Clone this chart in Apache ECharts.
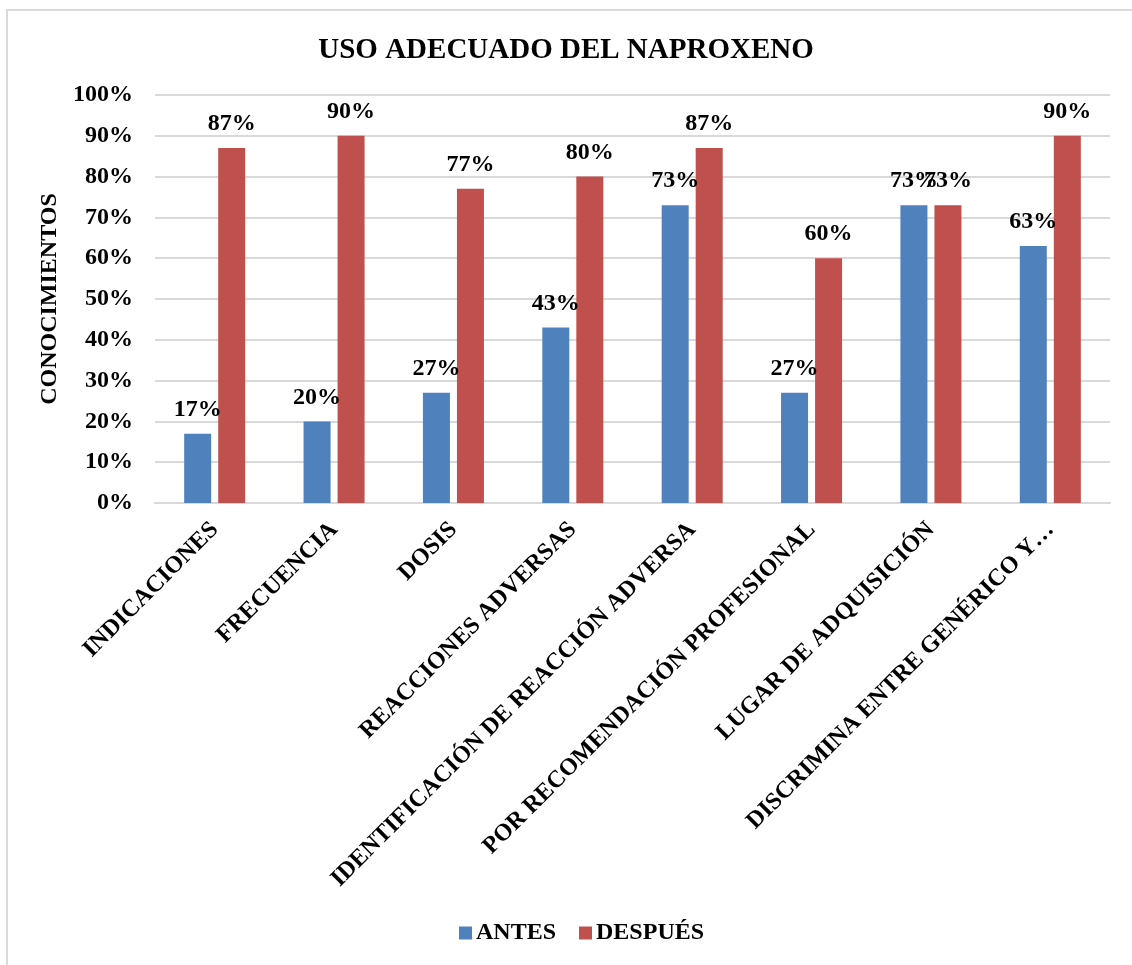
<!DOCTYPE html>
<html>
<head>
<meta charset="utf-8">
<script src="https://cdn.jsdelivr.net/npm/echarts@6/dist/echarts.min.js"></script>
<style>
html,body{margin:0;padding:0;background:#fff;overflow:hidden;}
#wrap{position:absolute;left:6px;top:9px;width:1200px;height:1000px;border:2px solid #d9d9d9;box-sizing:border-box;}
#chart{position:absolute;left:0;top:0;width:1132px;height:965px;}
</style>
</head>
<body>
<div id="wrap"></div>
<div id="chart"></div>
<script>
const categories = ["INDICACIONES","FRECUENCIA","DOSIS","REACCIONES ADVERSAS","IDENTIFICACIÓN DE REACCIÓN ADVERSA","POR RECOMENDACIÓN PROFESIONAL","LUGAR DE ADQUISICIÓN","DISCRIMINA ENTRE GENÉRICO Y…"];
const antes = [17,20,27,43,73,27,73,63];
const despues = [87,90,77,80,87,60,73,90];
const seriesNames = ["ANTES","DESPUÉS"];
const colors = ["#4F81BD","#C0504D"];
const FONT = "'Liberation Serif','Times New Roman',serif";

const chart = echarts.init(document.getElementById('chart'));
const labelCfg = {show:true, position:'top', distance:12, formatter:'{c}%', fontFamily:FONT, fontWeight:'bold', fontSize:24, color:'#000'};
chart.setOption({
  title:{text:'USO ADECUADO DEL NAPROXENO', left:'center', top:31, textStyle:{fontFamily:FONT, fontWeight:'bold', fontSize:29, color:'#000'}},
  legend:{bottom:15, left:454, itemWidth:13, itemHeight:13, itemGap:23, icon:'rect', textStyle:{fontFamily:FONT, fontWeight:'bold', fontSize:24, color:'#000', padding:[0,0,0,-1]}, data:seriesNames},
  grid:{left:155, right:22, top:95, bottom:462, containLabel:false},
  xAxis:{type:'category', data:categories,
    axisLine:{lineStyle:{color:'#d9d9d9', width:2}}, axisTick:{show:false},
    axisLabel:{interval:0, rotate:45, margin:23, fontFamily:FONT, fontWeight:'bold', fontSize:24, color:'#000'}},
  yAxis:{type:'value', min:0, max:100, interval:10,
    name:'CONOCIMIENTOS', nameLocation:'middle', nameGap:87, nameRotate:90,
    nameTextStyle:{fontFamily:FONT, fontWeight:'bold', fontSize:24, color:'#000'},
    axisLine:{show:false}, axisTick:{show:false},
    splitLine:{lineStyle:{color:'#d9d9d9', width:2}},
    axisLabel:{formatter:'{value}%', margin:22, fontFamily:FONT, fontWeight:'bold', fontSize:24, color:'#000'}},
  series:[
    {name:seriesNames[0], type:'bar', data:antes, barWidth:27, barGap:'26%', itemStyle:{color:colors[0]}, label:labelCfg},
    {name:seriesNames[1], type:'bar', data:despues, barWidth:27, barGap:'26%', itemStyle:{color:colors[1]}, label:labelCfg}
  ]
});
</script>
</body>
</html>
